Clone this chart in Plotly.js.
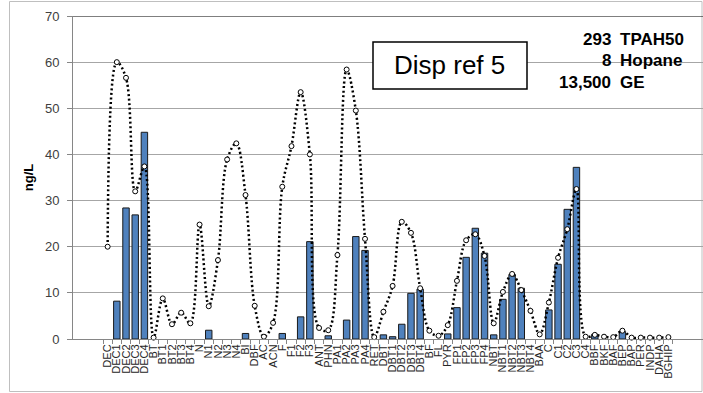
<!DOCTYPE html>
<html>
<head>
<meta charset="utf-8">
<script src="https://cdn.plot.ly/plotly-3.0.1.min.js"></script>
<style>
html,body{margin:0;padding:0;background:#fff;}
#chart{width:703px;height:393px;}
</style>
</head>
<body>
<div id="chart"></div>
<script>
var categories = ["DEC","DEC1","DEC2","DEC3","DEC4","BT","BT1","BT2","BT3","BT4",
  "N","N1","N2","N3","N4","BI","DBF","AC","ACN","F",
  "F1","F2","F3","ANT","PHN","PA1","PA2","PA3","PA4","RET",
  "DBT","DBT1","DBT2","DBT3","DBT4","BF","FL","PYR","FP1","FP2",
  "FP3","FP4","NBT","NBT1","NBT2","NBT3","NBT4","BAA","C","C1",
  "C2","C3","C4","BBF","BKF","BAF","BEP","BAP","PER","INDP",
  "DAHA","BGHIP"];

var sampleValues = [0,8.2,28.4,26.9,44.8,0,0,0,0,0,
  0,1.9,0,0,0,1.2,0,0,0,1.2,
  0,4.8,21.1,0,0.7,0,4.1,22.2,19.2,0,
  0.9,0.5,3.2,9.9,10.8,0,0,1.1,6.8,17.7,
  24.0,18.6,0.9,8.6,14.0,11.0,0,0,6.3,16.2,
  28.1,37.2,0,1.0,0,0,1.6,0,0,0,
  0,0];

var referenceValues = [20,60,56.6,32,37.4,0.3,8.8,3.2,5.7,3.4,
  24.8,7.1,17.1,38.9,42.4,31.2,7.2,0.5,3.5,33.0,
  41.8,53.5,40.0,2.4,1.9,18.2,58.4,49.5,21.7,0.4,
  5.9,11.5,25.4,23.0,11.0,1.8,0.7,3.0,12.6,21.4,
  22.7,18.0,3.4,10.2,14.1,10.6,6.1,1.0,7.9,17.6,
  23.8,32.5,0.5,0.9,0.5,0.4,1.8,0.3,0.3,0.3,
  0.3,0.4];

var yTicks = [0,10,20,30,40,50,60,70];
var boxLabel = "Disp ref 5";
var summaryNumbers = ["293","8","13,500"];
var summaryNames = ["TPAH50","Hopane","GE"];

var bars = {
  type: 'bar',
  x: categories,
  y: sampleValues,
  marker: {color: '#4F81BD', line: {color: '#1a1a1a',
    width: sampleValues.map(function (v) { return v > 0 ? 1 : 0; })}},
  hoverinfo: 'x+y',
  showlegend: false
};

var line = {
  type: 'scatter',
  mode: 'lines+markers',
  x: categories,
  y: referenceValues,
  line: {color: '#000000', width: 2.5, dash: '2px,2.6px', shape: 'spline', smoothing: 1},
  marker: {symbol: 'circle', size: 5, color: '#ffffff', line: {color: '#000000', width: 1}},
  cliponaxis: false,
  showlegend: false
};

var ann = [{
  xref: 'paper', yref: 'paper', x: 0.598, y: 0.847,
  text: boxLabel, showarrow: false,
  font: {family: 'Liberation Sans, Arial, sans-serif', size: 26, color: '#000'},
  xanchor: 'center', yanchor: 'middle'
}];
var rowsY = [39, 60.5, 83];
for (var i = 0; i < summaryNumbers.length; i++) {
  var py = (339 - rowsY[i]) / 323;
  ann.push({xref: 'paper', yref: 'paper', x: (613 - 73) / 630, y: py,
    text: '<b>' + summaryNumbers[i] + '</b>', showarrow: false,
    font: {family: 'Liberation Sans, Arial, sans-serif', size: 17, color: '#000'},
    xanchor: 'right', yanchor: 'middle'});
  ann.push({xref: 'paper', yref: 'paper', x: (618 - 73) / 630, y: py,
    text: '<b>' + summaryNames[i] + '</b>', showarrow: false,
    font: {family: 'Liberation Sans, Arial, sans-serif', size: 17, color: '#000'},
    xanchor: 'left', yanchor: 'middle'});
}

var layout = {
  width: 703, height: 393,
  margin: {l: 73, r: 0, t: 16, b: 54, pad: 0},
  paper_bgcolor: '#ffffff', plot_bgcolor: '#ffffff',
  bargap: 0.3,
  xaxis: {
    type: 'category',
    tickmode: 'array',
    tickvals: categories,
    ticktext: categories,
    tickangle: -90,
    tickfont: {family: 'Liberation Sans, Arial, sans-serif', size: 11, color: '#262626'},
    ticks: 'outside', ticklen: 4, tickcolor: '#868686', tickson: 'boundaries',
    showline: true, linecolor: '#868686', linewidth: 1,
    showgrid: false, zeroline: false,
    automargin: false
  },
  yaxis: {
    range: [0, 70],
    tickvals: yTicks,
    ticks: 'outside', ticklen: 5, tickcolor: '#868686',
    ticklabelstandoff: 5,
    tickfont: {family: 'Liberation Sans, Arial, sans-serif', size: 13, color: '#404040'},
    showline: true, linecolor: '#868686', linewidth: 1,
    showgrid: true, gridcolor: '#a6a6a6', gridwidth: 1,
    zeroline: false,
    automargin: false,
    title: {text: '<b>ng/L</b>', standoff: 8,
      font: {family: 'Liberation Sans, Arial, sans-serif', size: 13, color: '#000'}}
  },
  shapes: [
    {type: 'line', xref: 'paper', yref: 'y', x0: 0, x1: 1, y0: 70, y1: 70,
     line: {color: '#000000', width: 1}},
    {type: 'rect', xref: 'paper', yref: 'paper',
     x0: (373 - 73) / 630, x1: (527 - 73) / 630,
     y0: (339 - 89) / 323, y1: (339 - 42) / 323,
     line: {color: '#000000', width: 1.5}, fillcolor: '#ffffff', layer: 'above'},
    {type: 'rect', xref: 'paper', yref: 'paper',
     x0: (9.5 - 73) / 630, x1: (702 - 73) / 630,
     y0: (339 - 391.5) / 323, y1: (339 - 1.5) / 323,
     line: {color: '#bfbfbf', width: 1}, layer: 'below'}
  ],
  annotations: ann
};

Plotly.newPlot('chart', [bars, line], layout, {displayModeBar: false, staticPlot: true});
</script>
</body>
</html>
